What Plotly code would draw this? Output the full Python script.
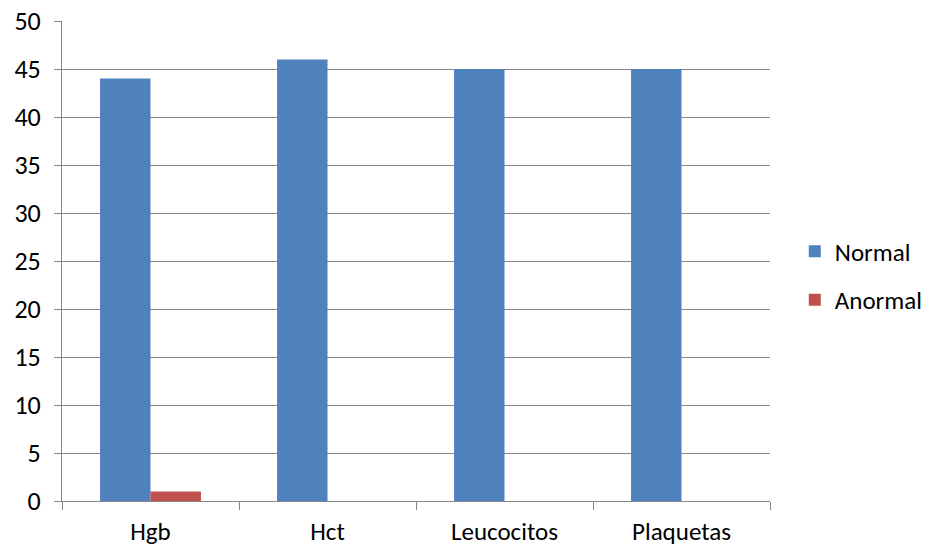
import plotly.graph_objects as go

categories = ["Hgb", "Hct", "Leucocitos", "Plaquetas"]
normal = [44, 46, 45, 45]
anormal = [1, 0, 0, 0]
y_ticks = [0, 5, 10, 15, 20, 25, 30, 35, 40, 45, 50]

grid = "#868686"
font_family = "Carlito, Calibri, Lato, sans-serif"
fs = 26

fig = go.Figure()
fig.add_trace(go.Bar(x=categories, y=normal, name="Normal", marker_color="#4F81BD",
                     marker_line_width=0, legendgroup="a"))
fig.add_trace(go.Bar(x=categories, y=anormal, name="Anormal", marker_color="#C0504D",
                     marker_line_width=0, legendgroup="b"))

fig.update_layout(
    width=930, height=548,
    margin=dict(l=62, r=160, t=21, b=47, autoexpand=False),
    paper_bgcolor="white", plot_bgcolor="white",
    barmode="group", bargap=0.43, bargroupgap=0,
    font=dict(family=font_family, size=fs, color="#000000"),
    showlegend=True,
    legend=dict(x=1.035, xanchor="left", y=0.47, yanchor="middle",
                font=dict(size=25), tracegroupgap=13, traceorder="grouped",
                itemwidth=30, bgcolor="rgba(0,0,0,0)"),
    xaxis=dict(showline=True, linecolor=grid, linewidth=1, showgrid=False,
               ticks="outside", tickson="boundaries", ticklen=8, tickcolor=grid,
               ticklabelstandoff=8, tickfont=dict(size=25), automargin=False),
    yaxis=dict(range=[0, 50], tickvals=y_ticks, showgrid=True, gridcolor=grid, gridwidth=1,
               showline=True, linecolor=grid, linewidth=1, zeroline=False,
               ticks="outside", ticklen=7, tickcolor=grid, ticklabelstandoff=8,
               tickfont=dict(size=fs), automargin=False),
)

fig.write_html("out.html")
